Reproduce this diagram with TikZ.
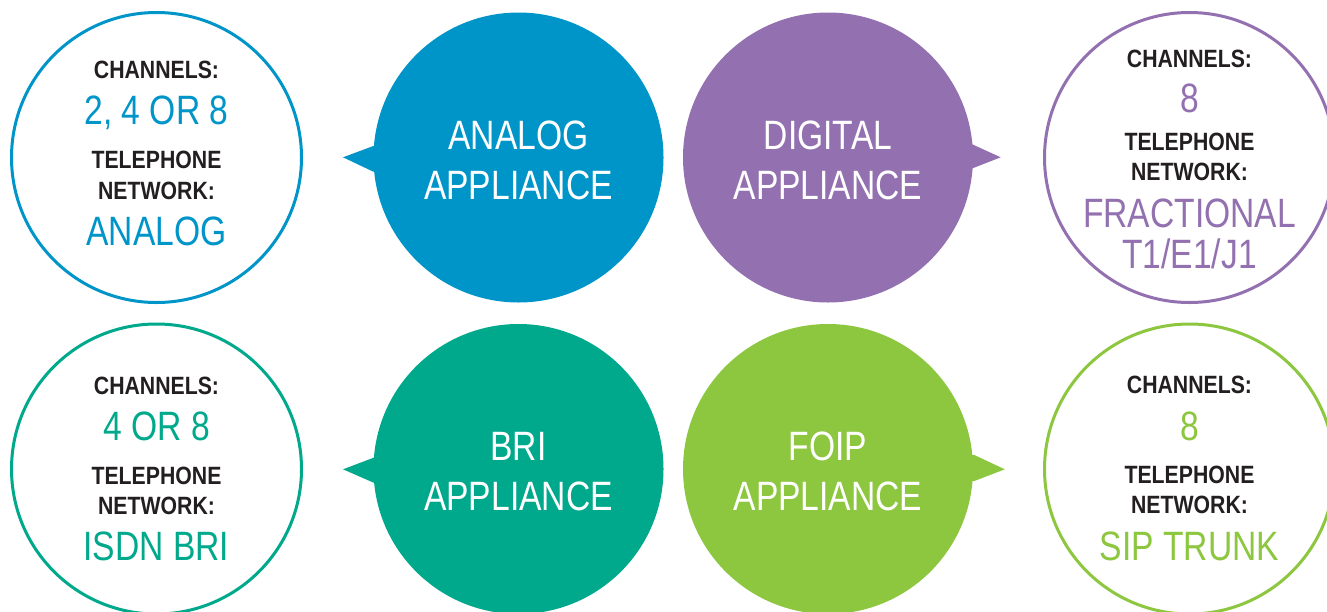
\documentclass[tikz,border=0pt]{standalone}
\usepackage{fontspec}
\setmainfont{Liberation Sans}
\newfontfamily\cond[FakeStretch=0.82]{Liberation Sans}
\newfontfamily\condb[FakeStretch=0.85]{Liberation Sans Bold}
\definecolor{cblue}{HTML}{0095C9}
\definecolor{cpurple}{HTML}{9371B0}
\definecolor{cteal}{HTML}{00A88C}
\definecolor{cgreen}{HTML}{8DC63F}
\definecolor{cdark}{HTML}{231F20}
\tikzset{
  outc/.style={circle, draw, line width=3pt, minimum size=290pt, inner sep=0pt, fill=white},
  fillc/.style={circle, minimum size=290pt, inner sep=0pt},
  lab/.style={anchor=base, inner sep=0pt, text=cdark, font=\condb\fontsize{25}{25}\selectfont},
  val/.style={anchor=base, inner sep=0pt, font=\cond\fontsize{41}{41}\selectfont},
  app/.style={anchor=base, inner sep=0pt, text=white, font=\cond\fontsize{41}{41}\selectfont},
}
\begin{document}
\begin{tikzpicture}[x=1pt,y=-1pt]
\useasboundingbox (0,0) rectangle (1327,611);
\clip (0,0) rectangle (1327,611);
% ---------- top row ----------
\node[outc, draw=cblue] (lc1) at (156.5,157.5) {};
\node[lab] (lc1a) at (156.5,78) {CHANNELS:};
\node[val, text=cblue] (lc1b) at (156.5,124) {2, 4 OR 8};
\node[lab] (lc1c) at (156.5,168) {TELEPHONE};
\node[lab] (lc1d) at (156.5,199) {NETWORK:};
\node[val, text=cblue] (lc1e) at (156.5,245) {ANALOG};

\fill[cblue] (343,157.3) -- (373.3,146) -- (400,146) -- (400,171.7) -- (373.3,171.7) -- cycle;
\node[fillc, fill=cblue] (ana) at (518.5,157.5) {};
\node[app] (anaa) at (518.5,149) {ANALOG};
\node[app] (anab) at (518.5,199) {APPLIANCE};

\fill[cpurple] (1000.7,157.3) -- (970,143.3) -- (950,143.3) -- (950,169.3) -- (970,169.3) -- cycle;
\node[fillc, fill=cpurple] (dig) at (828,157.5) {};
\node[app] (diga) at (828,149) {DIGITAL};
\node[app] (digb) at (828,199) {APPLIANCE};

\node[outc, draw=cpurple] (rc1) at (1189.5,157.5) {};
\node[lab] (rc1a) at (1189.5,67) {CHANNELS:};
\node[val, text=cpurple] (rc1b) at (1189.5,112) {8};
\node[lab] (rc1c) at (1189.5,150) {TELEPHONE};
\node[lab] (rc1d) at (1189.5,180) {NETWORK:};
\node[val, text=cpurple] (rc1e) at (1189.5,227) {FRACTIONAL};
\node[val, text=cpurple] (rc1f) at (1189.5,268) {T1/E1/J1};

% ---------- bottom row ----------
\node[outc, draw=cteal] (lc2) at (156.5,469) {};
\node[lab] (lc2a) at (156.5,394) {CHANNELS:};
\node[val, text=cteal] (lc2b) at (156.5,440) {4 OR 8};
\node[lab] (lc2c) at (156.5,484) {TELEPHONE};
\node[lab] (lc2d) at (156.5,514) {NETWORK:};
\node[val, text=cteal] (lc2e) at (156.5,560) {ISDN BRI};

\fill[cteal] (343,469.3) -- (373.6,457.7) -- (400,457.7) -- (400,482.7) -- (373.6,482.7) -- cycle;
\node[fillc, fill=cteal] (bri) at (518.5,469) {};
\node[app] (bria) at (518.5,460) {BRI};
\node[app] (brib) at (518.5,510) {APPLIANCE};

\fill[cgreen] (1004.8,469.3) -- (974.3,455) -- (950,455) -- (950,481) -- (974.3,481) -- cycle;
\node[fillc, fill=cgreen] (foip) at (828,469) {};
\node[app] (foipa) at (828,460) {FOIP};
\node[app] (foipb) at (828,510) {APPLIANCE};

\node[outc, draw=cgreen] (rc2) at (1189.5,469) {};
\node[lab] (rc2a) at (1189.5,393) {CHANNELS:};
\node[val, text=cgreen] (rc2b) at (1189.5,440) {8};
\node[lab] (rc2c) at (1189.5,483) {TELEPHONE};
\node[lab] (rc2d) at (1189.5,513) {NETWORK:};
\node[val, text=cgreen] (rc2e) at (1189.5,560) {SIP TRUNK};
\end{tikzpicture}
\end{document}
